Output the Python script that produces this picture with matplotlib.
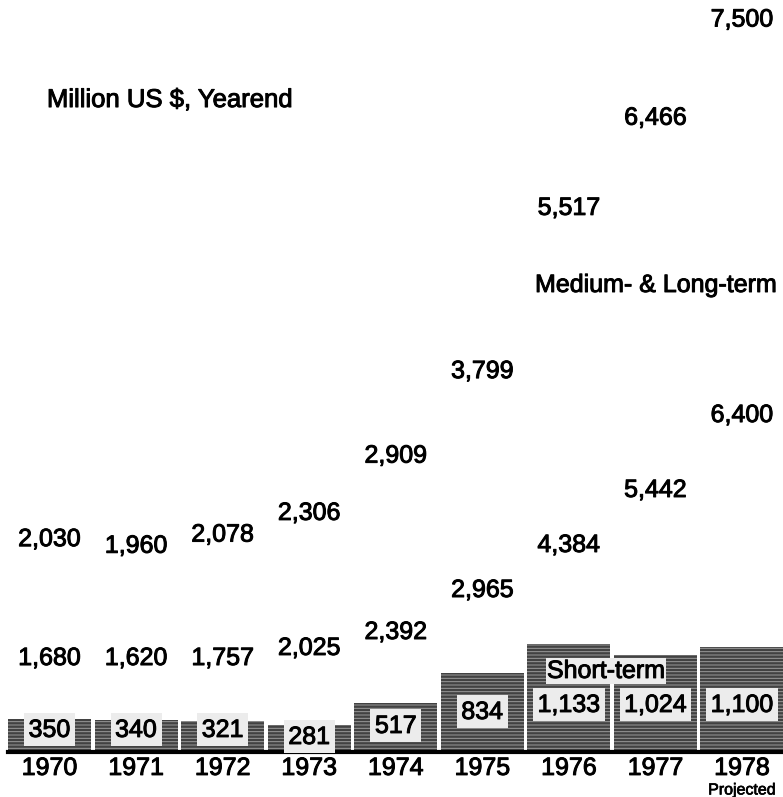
import numpy as np
import matplotlib
matplotlib.use('Agg')
import matplotlib.pyplot as plt
import matplotlib.patheffects as pe

plt.rcParams['font.family'] = ['Liberation Sans', 'DejaVu Sans']
plt.rcParams['hatch.linewidth'] = 0.7

years = ['1970', '1971', '1972', '1973', '1974', '1975', '1976', '1977', '1978']
short_term = [350, 340, 321, 281, 517, 834, 1133, 1024, 1100]
medium_long = [1680, 1620, 1757, 2025, 2392, 2965, 4384, 5442, 6400]
total = [2030, 1960, 2078, 2306, 2909, 3799, 5517, 6466, 7500]

# label heights (data units) for the medium/long-term and short-term figures
mid_label_y = [989, 989, 989, 1095, 1263, 1705, 2179, 2758, 3547]
short_label_y = [232, 232, 232, 158, 274, 421, 495, 495, 495]

fig = plt.figure(figsize=(7.83, 7.97), dpi=100)
ax = fig.add_axes([0, 0, 1, 1])
x = np.arange(len(years))

# slightly heavier type, like the printed original
heavy = [pe.withStroke(linewidth=0.7, foreground='black')]

# medium/long-term part sits on top of the short-term bar (left unshaded)
ax.bar(x, medium_long, bottom=short_term, width=0.96, color='white', zorder=1)
ax.bar(x, short_term, width=0.96, color='#424242', hatch='-----',
       edgecolor='#9a9a9a', linewidth=0, zorder=2)
ax.axhline(0, xmin=0.01, xmax=1, color='black', linewidth=3, zorder=3)

fs = 18
for i in x:
    ax.annotate(f'{total[i]:,}', (i, total[i]), xytext=(0, 20),
                textcoords='offset pixels', ha='center', va='center',
                fontsize=fs, path_effects=heavy)
    ax.text(i, mid_label_y[i], f'{medium_long[i]:,}', ha='center', va='center',
            fontsize=fs, path_effects=heavy)
    ax.text(i, short_label_y[i], f'{short_term[i]:,}', ha='center', va='center',
            fontsize=fs, zorder=5, path_effects=heavy,
            bbox=dict(boxstyle='square,pad=0.18', facecolor='#ececec',
                      edgecolor='none'))
    ax.text(i, -168, years[i], ha='center', va='center', fontsize=fs,
            path_effects=heavy)

ax.text(x[-1], -400, 'Projected', ha='center', va='center', fontsize=11.5,
        path_effects=[pe.withStroke(linewidth=0.5, foreground='black')])
ax.text(5.747, 853, 'Short-term', ha='left', va='center', fontsize=fs, zorder=5,
        path_effects=heavy,
        bbox=dict(boxstyle='square,pad=0.05', facecolor='#ececec', edgecolor='none'))
ax.text(-0.03, 6863, 'Million US $, Yearend', ha='left', va='center',
        fontsize=18.5, path_effects=heavy)
ax.text(5.609, 4916, 'Medium- & Long-term', ha='left', va='center',
        fontsize=fs, path_effects=heavy)

ax.set_xlim(-0.572, 8.474)
ax.set_ylim(-474, 7916)
ax.axis('off')

plt.savefig('out.png', dpi=100)
